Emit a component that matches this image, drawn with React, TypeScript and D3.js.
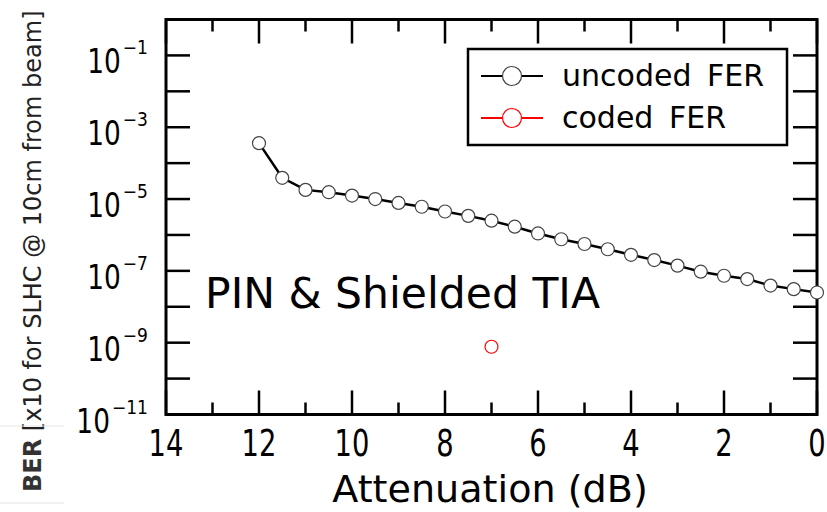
import React, { useEffect, useRef } from 'react';
import * as d3 from 'd3';

// attenuation in dB, one point every 0.5 dB
const attenuation = [12, 11.5, 11, 10.5, 10, 9.5, 9, 8.5, 8, 7.5, 7, 6.5, 6, 5.5, 5, 4.5, 4, 3.5, 3, 2.5, 2, 1.5, 1, 0.5, 0];
const uncodedFER = [
  3.6e-4, 3.9e-5, 1.8e-5, 1.55e-5, 1.25e-5, 1.0e-5, 7.8e-6, 6.1e-6, 4.5e-6, 3.4e-6, 2.5e-6, 1.7e-6, 1.1e-6,
  7.6e-7, 5.6e-7, 4.0e-7, 2.8e-7, 2.0e-7, 1.4e-7, 9.5e-8, 7.3e-8, 5.9e-8, 3.9e-8, 3.1e-8, 2.5e-8,
];
const codedAttenuation = [7];
const codedFER = [7.7e-10];

const xTicks = [14, 12, 10, 8, 6, 4, 2, 0];
const xMinorTicks = [13, 11, 9, 7, 5, 3, 1];
const yExponents = [0, -1, -2, -3, -4, -5, -6, -7, -8, -9, -10, -11];
const yLabelExponents = [-1, -3, -5, -7, -9, -11];
const legendNames = ['uncoded FER', 'coded FER'];
const legendColors = ['#000', '#ff0000'];

const W = 827;
const H = 512;
const FONT = "'DejaVu Sans', Verdana, sans-serif";

export default function App() {
  const ref = useRef<SVGSVGElement>(null);

  useEffect(() => {
    const svg = d3.select(ref.current);
    svg.selectAll('*').remove();

    const left = 166, right = 817, top = 19.5, bottom = 414.5;
    const x = d3.scaleLinear().domain([14, 0]).range([left, right]);
    const y = d3.scaleLog().domain([1e-11, 1]).range([bottom, top]);

    svg.append('rect').attr('width', W).attr('height', H).attr('fill', '#fff');

    // ticks, drawn inward on all four sides
    const ticks = svg.append('g').attr('stroke', '#000').attr('stroke-width', 2.5);
    xTicks.forEach((t) => {
      ticks.append('line').attr('x1', x(t)).attr('x2', x(t)).attr('y1', bottom).attr('y2', bottom - 24);
      ticks.append('line').attr('x1', x(t)).attr('x2', x(t)).attr('y1', top).attr('y2', top + 24);
    });
    xMinorTicks.forEach((t) => {
      ticks.append('line').attr('x1', x(t)).attr('x2', x(t)).attr('y1', bottom).attr('y2', bottom - 12);
      ticks.append('line').attr('x1', x(t)).attr('x2', x(t)).attr('y1', top).attr('y2', top + 12);
    });
    yExponents.forEach((e) => {
      const v = Math.pow(10, e);
      ticks.append('line').attr('x1', left).attr('x2', left + 24).attr('y1', y(v)).attr('y2', y(v));
      ticks.append('line').attr('x1', right).attr('x2', right - 24).attr('y1', y(v)).attr('y2', y(v));
    });

    svg.append('rect')
      .attr('x', left).attr('y', top)
      .attr('width', right - left).attr('height', bottom - top)
      .attr('fill', 'none').attr('stroke', '#000').attr('stroke-width', 3);

    // y tick labels: 10 with a superscript exponent
    yLabelExponents.forEach((e) => {
      const ty = y(Math.pow(10, e));
      const sup = svg.append('text')
        .attr('transform', `translate(148,${ty - 1}) scale(0.9,1)`)
        .attr('text-anchor', 'end')
        .attr('font-family', FONT)
        .attr('font-size', 19)
        .text(`\u2212${-e}`);
      const sw = (sup.node() as SVGTextElement).getComputedTextLength() * 0.9;
      svg.append('text')
        .attr('transform', `translate(${148 - sw - 2},${ty + 18}) scale(0.8,1)`)
        .attr('text-anchor', 'end')
        .attr('font-family', FONT)
        .attr('font-size', 33)
        .text('10');
    });

    // x tick labels
    xTicks.forEach((t) => {
      svg.append('text')
        .attr('transform', `translate(${x(t)},456) scale(0.72,1)`)
        .attr('text-anchor', 'middle')
        .attr('font-family', FONT)
        .attr('font-size', 38)
        .text(t);
    });

    svg.append('text')
      .attr('transform', 'translate(490,502) scale(1.03,1)')
      .attr('text-anchor', 'middle')
      .attr('font-family', FONT)
      .attr('font-size', 37)
      .text('Attenuation (dB)');

    // y title
    const yt = svg.append('text')
      .attr('transform', 'translate(41,492) rotate(-90)')
      .attr('font-family', FONT)
      .attr('font-size', 24)
      .attr('fill', '#222');
    yt.append('tspan').attr('font-weight', 'bold').attr('fill', '#333').text('BER');
    yt.append('tspan').text(' [x10 for SLHC @ 10cm from beam]');
    svg.append('line').attr('x1', 0).attr('x2', 64).attr('y1', 426).attr('y2', 426).attr('stroke', '#e4e4e4');
    svg.append('line').attr('x1', 0).attr('x2', 64).attr('y1', 503).attr('y2', 503).attr('stroke', '#e4e4e4');

    svg.append('text')
      .attr('x', 205).attr('y', 308)
      .attr('font-family', FONT)
      .attr('font-size', 42.5)
      .text('PIN & Shielded TIA');

    // uncoded series
    const pts = attenuation.map((a, i) => [a, uncodedFER[i]] as [number, number]);
    const line = d3.line<[number, number]>().x((d) => x(d[0])).y((d) => y(d[1]));
    svg.append('path').attr('d', line(pts)).attr('fill', 'none').attr('stroke', '#000').attr('stroke-width', 2.5);
    svg.append('g').selectAll('circle').data(pts).join('circle')
      .attr('cx', (d) => x(d[0])).attr('cy', (d) => y(d[1])).attr('r', 6.5)
      .attr('fill', '#fff').attr('stroke', '#444').attr('stroke-width', 1.2);

    // coded series
    svg.append('g').selectAll('circle').data(codedAttenuation).join('circle')
      .attr('cx', (d) => x(d)).attr('cy', (d, i) => y(codedFER[i])).attr('r', 6.5)
      .attr('fill', '#fff').attr('stroke', '#ff0000').attr('stroke-width', 1.2);

    // legend
    const lg = svg.append('g');
    lg.append('rect').attr('x', 468).attr('y', 49).attr('width', 319).attr('height', 96)
      .attr('fill', '#fff').attr('stroke', '#000').attr('stroke-width', 2.5);
    legendNames.forEach((name, i) => {
      const ly = 76 + i * 42;
      lg.append('line').attr('x1', 481).attr('x2', 543).attr('y1', ly).attr('y2', ly)
        .attr('stroke', legendColors[i]).attr('stroke-width', 2);
      lg.append('circle').attr('cx', 512).attr('cy', ly).attr('r', 9.5)
        .attr('fill', '#fff').attr('stroke', i === 0 ? '#444' : '#ff0000').attr('stroke-width', 1.2);
      lg.append('text').attr('x', 562).attr('y', ly + 10)
        .attr('font-family', FONT).attr('font-size', 30).attr('word-spacing', 6)
        .text(name);
    });
  }, []);

  return <svg ref={ref} width={W} height={H} style={{ position: 'absolute', left: 0, top: 0 }} />;
}
